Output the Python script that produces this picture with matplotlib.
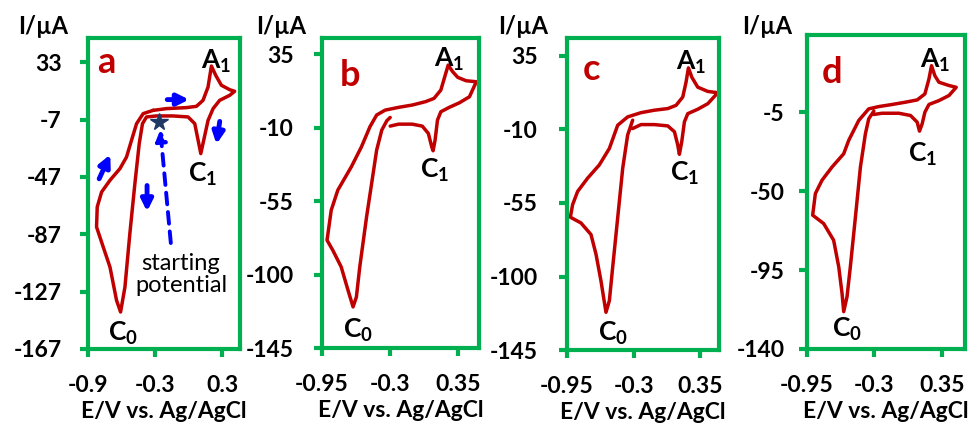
import matplotlib
matplotlib.use('Agg')
import matplotlib.pyplot as plt
import numpy as np

plt.rcParams['font.family'] = ['Lato', 'DejaVu Sans']

# ---- data (E in V, I in uA) ----
E_a = [-0.316, -0.197, -0.019, 0.071, 0.130, 0.175, 0.205, 0.244, 0.294, 0.369, 0.413,
       0.369, 0.279, 0.220, 0.175, 0.136, 0.110, 0.086, 0.056, -0.004, -0.138, -0.287,
       -0.376, -0.412, -0.441, -0.480, -0.525, -0.569, -0.608, -0.644, -0.703, -0.763,
       -0.823, -0.817, -0.778, -0.703, -0.614, -0.555, -0.510, -0.465, -0.406, -0.316]
I_a = [-0.5, 0.7, 1.4, 2.3, 6.5, 15.8, 30.4, 23.9, 17.0, 13.9, 12.8,
       10.0, 6.5, 0.7, -7.5, -21.4, -30.7, -21.4, -9.8, -5.1, -4.4, -4.4,
       -5.1, -9.8, -23.7, -51.7, -86.5, -123.8, -141.2, -133.1, -109.8, -95.9,
       -81.9, -67.9, -57.5, -49.3, -41.2, -33.1, -21.4, -9.8, -2.8, -0.5]

E_b = [-0.300, -0.220, -0.091, 0.006, 0.064, 0.096, 0.109, 0.128, 0.151, 0.183, 0.263,
       0.360, 0.456, 0.521, 0.424, 0.344, 0.295, 0.253, 0.225, 0.183, 0.118, 0.038,
       -0.091, -0.220, -0.348, -0.429, -0.493, -0.574, -0.670, -0.799, -0.862, -0.902,
       -0.847, -0.767, -0.702, -0.654, -0.622, -0.590, -0.525, -0.477, -0.429, -0.380,
       -0.332, -0.300]
I_b = [-9.0, -7.8, -7.8, -9.0, -13.5, -21.7, -24.1, -17.6, -5.3, -0.2, 2.5,
       5.3, 9.0, 18.2, 18.8, 20.9, 24.4, 28.4, 22.3, 13.1, 8.0, 6.0,
       3.9, 2.5, 0.8, -2.2, -9.4, -21.7, -33.9, -48.2, -60.5, -78.9,
       -85.1, -95.3, -109.6, -119.8, -113.7, -95.3, -64.6, -44.2, -23.7, -11.4,
       -5.7, -3.7]

E_c = [-0.310, -0.229, -0.099, 0.032, 0.097, 0.129, 0.145, 0.168, 0.194, 0.227, 0.324,
       0.422, 0.519, 0.422, 0.324, 0.266, 0.233, 0.210, 0.178, 0.113, 0.032, -0.099,
       -0.229, -0.359, -0.456, -0.537, -0.635, -0.749, -0.846, -0.895, -0.917, -0.814,
       -0.716, -0.667, -0.619, -0.570, -0.537, -0.505, -0.456, -0.407, -0.359, -0.310]
I_c = [-9.4, -7.0, -7.0, -7.8, -11.4, -19.5, -25.2, -17.5, -5.3, -0.3, 2.4,
       5.8, 12.5, 13.3, 15.9, 22.0, 27.7, 19.0, 9.9, 4.8, 2.8, 1.8,
       0.3, -2.3, -7.4, -21.6, -31.7, -39.8, -47.9, -56.0, -63.7, -67.2,
       -74.3, -86.4, -102.6, -121.9, -114.8, -94.5, -64.1, -33.7, -13.4, -4.3]

E_d = [-0.306, -0.226, -0.065, 0.048, 0.112, 0.134, 0.160, 0.186, 0.225, 0.321, 0.418,
       0.488, 0.418, 0.321, 0.282, 0.250, 0.225, 0.186, 0.112, -0.001, -0.129, -0.258,
       -0.355, -0.451, -0.548, -0.596, -0.709, -0.805, -0.869, -0.895, -0.789, -0.693,
       -0.644, -0.612, -0.596, -0.564, -0.532, -0.483, -0.435, -0.387, -0.355, -0.306]
I_d = [-6.3, -5.6, -5.6, -6.9, -10.7, -15.8, -11.6, -5.0, -0.6, 1.6, 4.5,
       9.2, 10.2, 12.1, 15.8, 21.5, 13.9, 5.4, 2.0, 0.7, -0.6, -1.8,
       -3.1, -9.7, -21.1, -28.7, -36.3, -43.8, -51.4, -63.7, -68.5, -78.0,
       -93.1, -108.3, -118.7, -110.2, -93.1, -64.7, -36.3, -17.3, -8.8, -4.4]

xticks_a = [-0.9, -0.3, 0.3]
xticklabels_a = ['-0.9', '-0.3', '0.3']
yticks_a = [33, -7, -47, -87, -127, -167]
xticks_bcd = [-0.95, -0.3, 0.35]
xticklabels_bcd = ['-0.95', '-0.3', '0.35']
yticks_bc = [35, -10, -55, -100, -145]
yticks_d = [-5, -50, -95, -140]

# peak label positions (E, I) per panel: A1, C1, C0
peaks_a = [(0.245, 34), (0.13, -45), (-0.585, -156)]
peaks_b = [(0.265, 32), (0.12, -36), (-0.606, -134)]
peaks_c = [(0.26, 31), (0.194, -37), (-0.505, -135)]
peaks_d = [(0.282, 24.4), (0.16, -29), (-0.564, -129)]
peak_names = ['A$_\\mathregular{1}$', 'C$_\\mathregular{1}$', 'C$_\\mathregular{0}$']

green = '#00B050'
red = '#C00000'
blue = '#0000FF'

fig = plt.figure(figsize=(9.74, 4.29), dpi=100)

panels = [
    # letter, E, I, peaks, rect, xlim, ylim, xticks, xticklabels, yticks, ypad, I/uA x px, letter pos
    ('a', E_a, I_a, peaks_a, [0.0903, 0.1865, 0.156, 0.725], (-0.9, 0.46), (-167, 50),
     xticks_a, xticklabels_a, yticks_a, 13, 43, (0.06, 0.92)),
    ('b', E_b, I_b, peaks_b, [0.3306, 0.1888, 0.161, 0.7226], (-0.95, 0.545), (-145, 45),
     xticks_bcd, xticklabels_bcd, yticks_bc, 14.5, 281, (0.115, 0.88)),
    ('c', E_c, I_c, peaks_c, [0.5821, 0.1841, 0.156, 0.7273], (-0.95, 0.53), (-145, 46),
     xticks_bcd, xticklabels_bcd, yticks_bc, 15, 523, (0.105, 0.90)),
    ('d', E_d, I_d, peaks_d, [0.8285, 0.1865, 0.162, 0.7319], (-0.95, 0.57), (-140, 39),
     xticks_bcd, xticklabels_bcd, yticks_d, 10, 767, (0.095, 0.88)),
]

axes = []
for letter, E, I, peaks, rect, xl, yl, xt, xtl, yt, ypad, ylab_x, lpos in panels:
    ax = fig.add_axes(rect)
    ax.plot(E, I, color=red, lw=2.5, solid_joinstyle='round', solid_capstyle='round')
    ax.set_xlim(xl)
    ax.set_ylim(yl)
    ax.set_xticks(xt)
    ax.set_xticklabels(xtl)
    ax.set_yticks(yt)
    ax.set_yticklabels([str(v) for v in yt])
    for s in ax.spines.values():
        s.set_color(green)
        s.set_linewidth(3)
    ax.tick_params(axis='both', colors=green, length=6, width=3, labelcolor='black',
                   labelsize=16.5)
    ax.tick_params(axis='x', pad=13)
    ax.tick_params(axis='y', pad=ypad)
    for lab in ax.get_xticklabels() + ax.get_yticklabels():
        lab.set_fontweight('bold')
    ax.set_xlabel('E/V vs. Ag/AgCl', fontsize=16.5, fontweight='bold', labelpad=3)
    fig.text(ylab_x / 974, 1 - 27 / 429, 'I/µA', fontsize=17, fontweight='bold',
             ha='center', va='center')
    ax.text(lpos[0], lpos[1], letter, transform=ax.transAxes, fontsize=26,
            fontweight='bold', color=red, ha='left', va='center')
    for (px, py), name in zip(peaks, peak_names):
        ax.text(px, py, name, fontsize=19, fontweight='bold', ha='center', va='center')
    axes.append(ax)

# panel a annotations
ax = axes[0]
ax.plot(-0.264, -8.4, marker='*', color='#1F3864', ms=13, zorder=5)
ax.annotate('', xy=(-0.255, -12), xytext=(-0.156, -95),
            arrowprops=dict(arrowstyle='-|>', color=blue, lw=2.8, ls=(0, (3, 2)),
                            mutation_scale=16))
ax.text(-0.067, -115, 'starting\npotential', fontsize=17, ha='center', va='center',
        linespacing=1.05)
arrows_a = [((-0.215, 7.0), (0.03, 7.0)),
            ((0.283, -6.3), (0.247, -26)),
            ((-0.81, -50), (-0.69, -29.6)),
            ((-0.371, -51), (-0.371, -73))]
for (x0, y0), (x1, y1) in arrows_a:
    ax.annotate('', xy=(x1, y1), xytext=(x0, y0),
                arrowprops=dict(arrowstyle='-|>', color=blue, lw=3.5, mutation_scale=17))

plt.savefig('out.png', dpi=100)
